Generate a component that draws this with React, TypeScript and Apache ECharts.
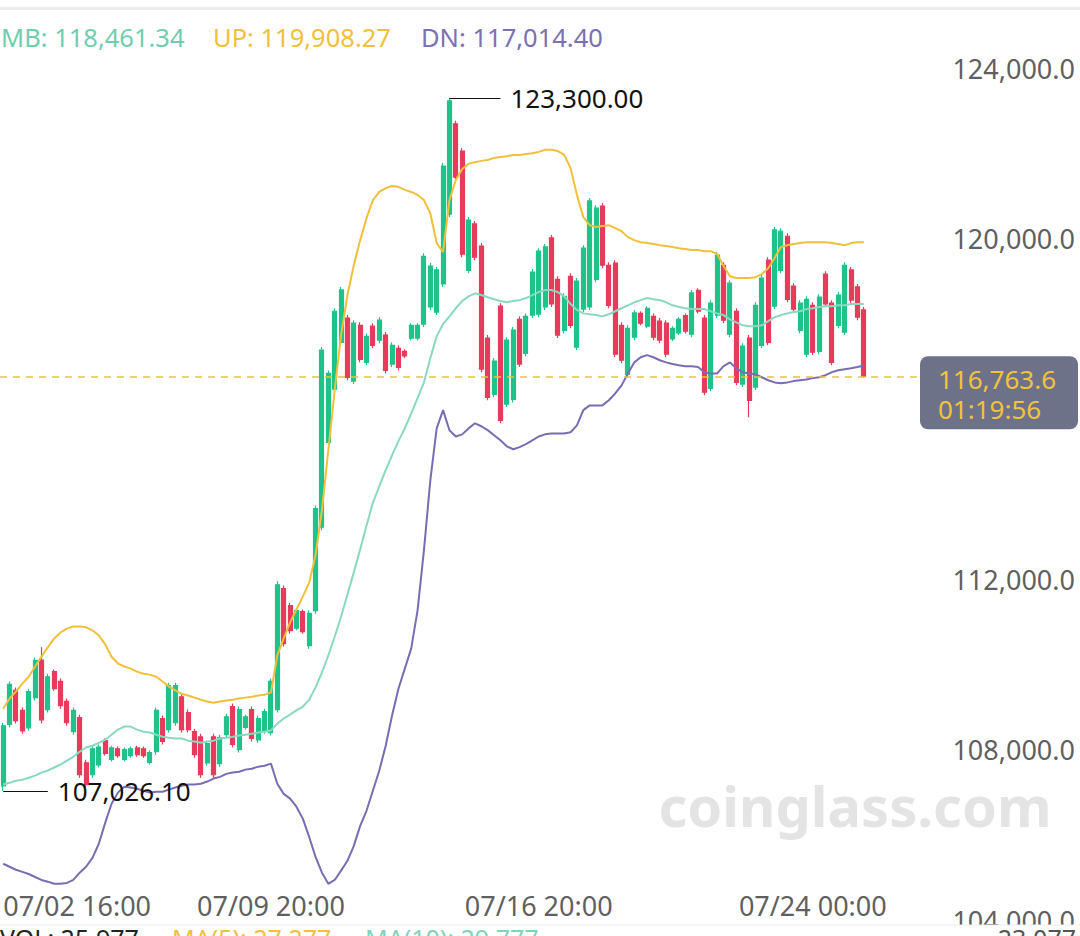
import React, { useEffect, useRef } from 'react';
import * as echarts from 'echarts';

const FONT = '"Noto Sans", sans-serif';
const TOTAL_SLOTS = 144;

const tickIndex = [0, 42, 84, 127];
const tickLabels = ['07/02 16:00', '07/09 20:00', '07/16 20:00', '07/24 00:00'];

const opens = [
  107150, 108590, 109390, 108920, 108510, 109220, 110100, 108940, 109830, 109600,
  109130, 108420, 108750, 107690, 107410, 107640, 108210, 107770, 108020, 107770,
  107860, 108040, 108020, 107700, 107950, 108730, 108470, 108630, 109240, 108870,
  108420, 108300, 107690, 108300, 107670, 108350, 109010, 108000, 108520, 108940,
  108230, 108440, 108400, 108940, 111780, 111380, 110850, 111240, 110440, 111260,
  113220, 115210, 116460, 117560, 118130, 116650, 117960, 117090, 117940, 117610,
  117730, 117050, 117420, 117350, 117660, 117660, 117990, 118390, 118270, 118930,
  120570, 122690, 122050, 119250, 120340, 119820, 117660, 116340, 118410, 116110,
  116220, 118100, 117300, 118200, 118220, 118390, 120010, 119040, 117840, 119110,
  117450, 118340, 118390, 119040, 120760, 119370, 119420, 117960, 116810, 117680,
  118240, 117940, 118170, 118060, 118010, 117640, 117780, 118190, 117750, 118780,
  118130, 116480, 118200, 119370, 117750, 118290, 116580, 117660, 116510, 117490,
  119490, 118410, 119250, 120050, 118880, 117840, 117280, 118430, 117350, 119160,
  118480, 117960, 117800, 119260, 118860, 118320,
];
const closes = [
  108560, 109530, 108680, 108440, 109360, 110090, 108700, 109710, 109430, 109030,
  108630, 108920, 107410, 107180, 108020, 108060, 107910, 108040, 107860, 108000,
  108020, 107880, 107860, 107930, 108920, 108190, 109500, 109500, 108470, 108470,
  107880, 107410, 108140, 107410, 108280, 108770, 108120, 108940, 108770, 108260,
  108730, 108890, 109600, 111870, 110490, 110790, 111260, 110770, 111200, 113660,
  117380, 116830, 118290, 118790, 116740, 118010, 117160, 117700, 117490, 118080,
  116900, 117490, 116970, 117240, 117960, 117960, 119580, 119350, 119260, 121700,
  123230, 121440, 119630, 120430, 119560, 116930, 116270, 117120, 115730, 117610,
  117850, 117050, 118170, 119210, 119700, 119800, 118460, 117730, 118640, 117960,
  119000, 119770, 120880, 120710, 119370, 118430, 117280, 117140, 117890, 118250,
  118010, 118360, 117680, 117610, 117280, 117890, 118100, 117820, 118720, 118290,
  116390, 118480, 119610, 118080, 118950, 116620, 117470, 116200, 118430, 119070,
  117560, 120200, 120170, 118570, 118340, 118480, 118570, 117330, 118620, 118460,
  117090, 118670, 119370, 118550, 118150, 116763.6,
];
const lows = [
  107026.1, 108520, 108610, 108370, 108440, 109150, 108610, 108870, 109380, 108960,
  108560, 108350, 107340, 107110, 107340, 107580, 107860, 107720, 107810, 107720,
  107810, 107830, 107810, 107650, 107880, 108120, 108400, 108560, 108400, 108400,
  107810, 107340, 107620, 107340, 107600, 108280, 108050, 107930, 108470, 108190,
  108160, 108370, 108330, 108870, 110420, 110720, 110800, 110720, 110370, 111190,
  113150, 115140, 116390, 117490, 116670, 116580, 117090, 117020, 117420, 117540,
  116830, 116980, 116900, 117190, 117610, 117610, 117920, 118320, 118200, 118860,
  120500, 121370, 119560, 119180, 119490, 116860, 116200, 116270, 115660, 116040,
  116150, 116980, 117230, 118130, 118150, 118320, 118390, 117660, 117770, 117890,
  117380, 118270, 118320, 118970, 119300, 118360, 117210, 117070, 116740, 117610,
  117960, 117890, 117610, 117540, 117210, 117590, 117730, 117770, 117680, 118240,
  116320, 116410, 118130, 118010, 117680, 116550, 116510, 115800, 116440, 117420,
  117490, 118340, 119180, 118500, 118270, 117770, 117210, 117260, 117280, 118390,
  117020, 117890, 117730, 118480, 118080, 116740,
];
const highs = [
  108630, 109600, 109460, 108990, 109430, 110160, 110400, 109780, 109880, 109670,
  109200, 108990, 108820, 107760, 108090, 108120, 108260, 108090, 108070, 108050,
  108070, 108090, 108070, 107980, 108990, 108800, 109570, 109570, 109310, 108940,
  108490, 108370, 108210, 108370, 108350, 108840, 109080, 109010, 108820, 109010,
  108800, 108960, 109670, 111950, 111850, 111450, 111310, 111290, 111270, 113730,
  117450, 116900, 118360, 118860, 118200, 118080, 118030, 117770, 118010, 118150,
  117800, 117560, 117490, 117400, 118010, 118010, 119650, 119420, 119330, 121770,
  123300, 122760, 122120, 120500, 120410, 119890, 117730, 117190, 118480, 117680,
  117920, 118170, 118240, 119280, 119770, 119870, 120080, 119110, 118710, 119180,
  119070, 119840, 120950, 120780, 120830, 119440, 119490, 118030, 117960, 118320,
  118290, 118410, 118240, 118130, 118080, 117940, 118150, 118240, 118790, 118830,
  118200, 118550, 119680, 119440, 119020, 118360, 117540, 117730, 118500, 119140,
  119560, 120270, 120240, 120120, 118950, 118550, 118640, 118500, 118690, 119230,
  118550, 118740, 119440, 119330, 118930, 118390,
];

const upBand = [
  108960, 109200, 109360, 109550, 109710, 109950, 110180, 110400, 110610, 110750,
  110840, 110890, 110890, 110870, 110800, 110680, 110470, 110180, 110020, 109950,
  109900, 109830, 109780, 109760, 109710, 109600, 109480, 109390, 109310, 109270,
  109220, 109170, 109130, 109100, 109130, 109150, 109170, 109200, 109220, 109240,
  109270, 109290, 109340, 110210, 110610, 110980, 111290, 111590, 111920, 112560,
  113620, 115025, 116440, 117730, 118670, 119370, 119960, 120480, 120900, 121090,
  121180, 121230, 121210, 121140, 121090, 121020, 120900, 120590, 119890, 119680,
  120900, 121370, 121630, 121750, 121790, 121820, 121840, 121890, 121910, 121930,
  121960, 121960, 121980, 122000, 122030, 122080, 122080, 122050, 121960, 121650,
  121020, 120500, 120310, 120270, 120290, 120310, 120240, 120170, 120030, 119960,
  119910, 119890, 119870, 119840, 119820, 119800, 119770, 119750, 119730, 119730,
  119700, 119700, 119630, 119350, 119110, 119070, 119070, 119070, 119090, 119160,
  119300, 119540, 119800, 119840, 119870, 119890, 119910, 119910, 119910, 119910,
  119890, 119870, 119840, 119890, 119910, 119908.27,
];
const midBand = [
  107180, 107220, 107270, 107290, 107340, 107390, 107460, 107510, 107580, 107650,
  107740, 107830, 107950, 108050, 108090, 108160, 108230, 108350, 108470, 108540,
  108540, 108470, 108420, 108400, 108350, 108300, 108280, 108260, 108260, 108210,
  108190, 108160, 108190, 108210, 108260, 108280, 108300, 108330, 108350, 108370,
  108400, 108420, 108450, 108610, 108730, 108820, 108920, 109010, 109170, 109460,
  109810, 110210, 110650, 111120, 111640, 112160, 112700, 113260, 113800, 114180,
  114560, 114910, 115240, 115540, 115890, 116250, 116620, 117190, 117700, 117990,
  118170, 118360, 118530, 118640, 118710, 118670, 118620, 118570, 118530, 118500,
  118530, 118550, 118600, 118670, 118740, 118790, 118790, 118740, 118640, 118460,
  118320, 118240, 118220, 118200, 118170, 118220, 118290, 118360, 118430, 118500,
  118550, 118600, 118570, 118550, 118500, 118430, 118390, 118360, 118340, 118340,
  118340, 118290, 118240, 118200, 118100, 118030, 117960, 117940, 117940, 117960,
  118060, 118150, 118200, 118240, 118270, 118290, 118340, 118360, 118390, 118410,
  118410, 118430, 118430, 118460, 118460, 118461.34,
];
const lowBand = [
  105320, 105250, 105180, 105130, 105080, 105010, 104940, 104900, 104850, 104850,
  104870, 104940, 105110, 105250, 105460, 105790, 106280, 106730, 106990, 107130,
  107110, 107080, 107035, 106990, 107010, 107010, 107060, 107110, 107150, 107180,
  107180, 107200, 107250, 107320, 107360, 107430, 107460, 107480, 107530, 107550,
  107600, 107620, 107670, 107200, 106960, 106850, 106660, 106380, 105950, 105480,
  105110, 104850, 104940, 105160, 105390, 105740, 106210, 106570, 107040, 107510,
  108090, 108800, 109430, 109900, 110370, 111270, 112675, 114320, 115540, 115970,
  115495, 115350, 115400, 115540, 115660, 115590, 115500, 115380, 115260, 115120,
  115050, 115100, 115170, 115260, 115350, 115400, 115420, 115420, 115420, 115450,
  115610, 115970, 116080, 116080, 116080, 116200, 116360, 116550, 116830, 117090,
  117210, 117260, 117210, 117140, 117090, 117050, 117020, 117000, 117000, 116980,
  116860, 116830, 116830, 117000, 117090, 116950, 116860, 116830, 116810, 116740,
  116670, 116620, 116600, 116620, 116650, 116670, 116690, 116720, 116740, 116790,
  116860, 116905, 116930, 116950, 116980, 117014.4,
];

const hiddenYTicks = [116000];
const countdown = '01:19:56';
const bottomTexts = [
  { text: 'VOL: 25.977', x: 0, color: '#222222', align: 'left' },
  { text: 'MA(5): 27.277', x: 172, color: '#f0c03c', align: 'left' },
  { text: 'MA(10): 29.777', x: 365, color: '#7fd3bb', align: 'left' },
  { text: '23.077', x: 1076, color: '#555555', align: 'right' },
];

const UP_COLOR = '#1fc38a';
const DOWN_COLOR = '#e73b5c';
const C_MB = '#8bd8c1';
const C_UP = '#f0c03c';
const C_DN = '#7a6cb3';
const AXIS_FS = 27;

const fmt = (v: number, d: number) =>
  v.toLocaleString('en-US', { minimumFractionDigits: d, maximumFractionDigits: d });

export default function App() {
  const ref = useRef<HTMLDivElement>(null);
  useEffect(() => {
    if (!ref.current) return;
    const chart = echarts.init(ref.current, null, { renderer: 'svg' });
    const categories = Array.from({ length: TOTAL_SLOTS }, (_, i) => String(i));
    const candles = opens.map((o, i) => [o, closes[i], lows[i], highs[i]]);
    const last = opens.length - 1;
    let hiIdx = 0;
    let loIdx = 0;
    highs.forEach((h, i) => { if (h > highs[hiIdx]) hiIdx = i; });
    lows.forEach((l, i) => { if (l < lows[loIdx]) loIdx = i; });
    const lastClose = closes[last];

    const baseGraphic: any[] = [
      { id: 'topline', type: 'rect', z: 0, shape: { x: 0, y: 7, width: 1080, height: 3 }, style: { fill: '#ececec' } },
      {
        id: 'lgMB', type: 'text', z: 10, x: 1, y: 37,
        style: { text: `MB: ${fmt(midBand[last], 2)}`, fill: '#6fcdb0', font: `25.5px ${FONT}`, textVerticalAlign: 'middle' },
      },
      {
        id: 'lgUP', type: 'text', z: 10, x: 213, y: 37,
        style: { text: `UP: ${fmt(upBand[last], 2)}`, fill: '#f0c03c', font: `25.5px ${FONT}`, textVerticalAlign: 'middle' },
      },
      {
        id: 'lgDN', type: 'text', z: 10, x: 421, y: 37,
        style: { text: `DN: ${fmt(lowBand[last], 2)}`, fill: '#7b70b1', font: `25.5px ${FONT}`, textVerticalAlign: 'middle' },
      },
      {
        id: 'wm', type: 'text', z: -1, x: 855, y: 805,
        style: {
          text: 'coinglass.com', fill: '#e4e4e4', font: `bold 56px ${FONT}`,
          textAlign: 'center', textVerticalAlign: 'middle',
        },
      },
      { id: 'botpanel', type: 'rect', z: 100, shape: { x: 0, y: 925, width: 1080, height: 11 }, style: { fill: '#ffffff' } },
      { id: 'botline', type: 'rect', z: 101, shape: { x: 0, y: 924.5, width: 1080, height: 1 }, style: { fill: '#ededed' } },
      ...bottomTexts.map((b, i) => ({
        id: 'bt' + i, type: 'text', z: 102, x: b.x, y: 925,
        style: { text: b.text, fill: b.color, font: `25px ${FONT}`, textAlign: b.align, textVerticalAlign: 'top' },
      })),
    ];

    const option: any = {
      animation: false,
      backgroundColor: '#ffffff',
      textStyle: { fontFamily: FONT },
      grid: { left: 0, right: 162, top: 68, bottom: 16, containLabel: false },
      xAxis: {
        type: 'category',
        data: categories,
        boundaryGap: true,
        axisLine: { show: false },
        axisTick: { show: false },
        splitLine: { show: false },
        axisLabel: {
          interval: (idx: number) => tickIndex.includes(idx),
          formatter: (_v: string, idx: number) => {
            const k = tickIndex.indexOf(idx);
            return k >= 0 ? tickLabels[k] : '';
          },
          alignMinLabel: 'left',
          margin: -28,
          color: '#5f5f5f',
          fontSize: AXIS_FS,
          fontFamily: FONT,
        },
      },
      yAxis: {
        type: 'value',
        position: 'right',
        min: 104000,
        max: 124000,
        interval: 4000,
        axisLine: { show: false },
        axisTick: { show: false },
        splitLine: { show: false },
        axisLabel: {
          align: 'right',
          margin: 157,
          color: '#5f5f5f',
          fontSize: AXIS_FS,
          fontFamily: FONT,
          formatter: (v: number) => (hiddenYTicks.includes(v) ? '' : fmt(v, 1)),
        },
      },
      series: [
        {
          type: 'candlestick',
          data: candles,
          barWidth: 4.5,
          z: 2,
          itemStyle: {
            color: UP_COLOR,
            color0: DOWN_COLOR,
            borderColor: UP_COLOR,
            borderColor0: DOWN_COLOR,
            borderWidth: 1.2,
          },
        },
        {
          type: 'line', name: 'UP', data: upBand, symbol: 'none', z: 3,
          lineStyle: { color: C_UP, width: 2 },
        },
        {
          type: 'line', name: 'MB', data: midBand, symbol: 'none', z: 3,
          lineStyle: { color: C_MB, width: 2 },
        },
        {
          type: 'line', name: 'DN', data: lowBand, symbol: 'none', z: 4,
          lineStyle: { color: C_DN, width: 2 },
          markLine: {
            silent: true,
            symbol: ['none', 'none'],
            animation: false,
            data: [
              {
                yAxis: lastClose,
                lineStyle: { color: '#e6c23f', width: 1.5, type: [7, 6] },
                label: { show: false },
              },
              [
                {
                  coord: [hiIdx, highs[hiIdx]],
                  lineStyle: { color: '#111111', width: 1.2, type: 'solid' },
                  label: {
                    show: true, position: 'end', distance: 10,
                    formatter: fmt(highs[hiIdx], 2),
                    color: '#111111', fontSize: 26, fontFamily: FONT,
                  },
                },
                { coord: [hiIdx + 8, highs[hiIdx]] },
              ],
              [
                {
                  coord: [loIdx, lows[loIdx]],
                  lineStyle: { color: '#111111', width: 1.2, type: 'solid' },
                  label: {
                    show: true, position: 'end', distance: 10,
                    formatter: fmt(lows[loIdx], 2),
                    color: '#111111', fontSize: 26, fontFamily: FONT,
                  },
                },
                { coord: [loIdx + 7, lows[loIdx]] },
              ],
            ],
          },
        },
      ],
      graphic: baseGraphic,
    };
    chart.setOption(option);

    const py = chart.convertToPixel({ yAxisIndex: 0 }, lastClose) as number;
    chart.setOption({
      graphic: [
        ...baseGraphic,
        {
          id: 'pbox', type: 'rect', z: 50,
          shape: { x: 920, y: py - 20, width: 158, height: 73, r: 8 },
          style: { fill: '#6e7289' },
        },
        {
          id: 'pval', type: 'text', z: 51, x: 938, y: py + 3,
          style: { text: fmt(lastClose, 1), fill: '#f2c23c', font: `26px ${FONT}`, textVerticalAlign: 'middle' },
        },
        {
          id: 'pcd', type: 'text', z: 51, x: 938, y: py + 33,
          style: { text: countdown, fill: '#f2c23c', font: `26px ${FONT}`, textVerticalAlign: 'middle' },
        },
      ],
    });
    return () => chart.dispose();
  }, []);
  return (
    <div
      ref={ref}
      style={{ position: 'fixed', left: 0, top: 0, width: 1080, height: 936, background: '#ffffff' }}
    />
  );
}
